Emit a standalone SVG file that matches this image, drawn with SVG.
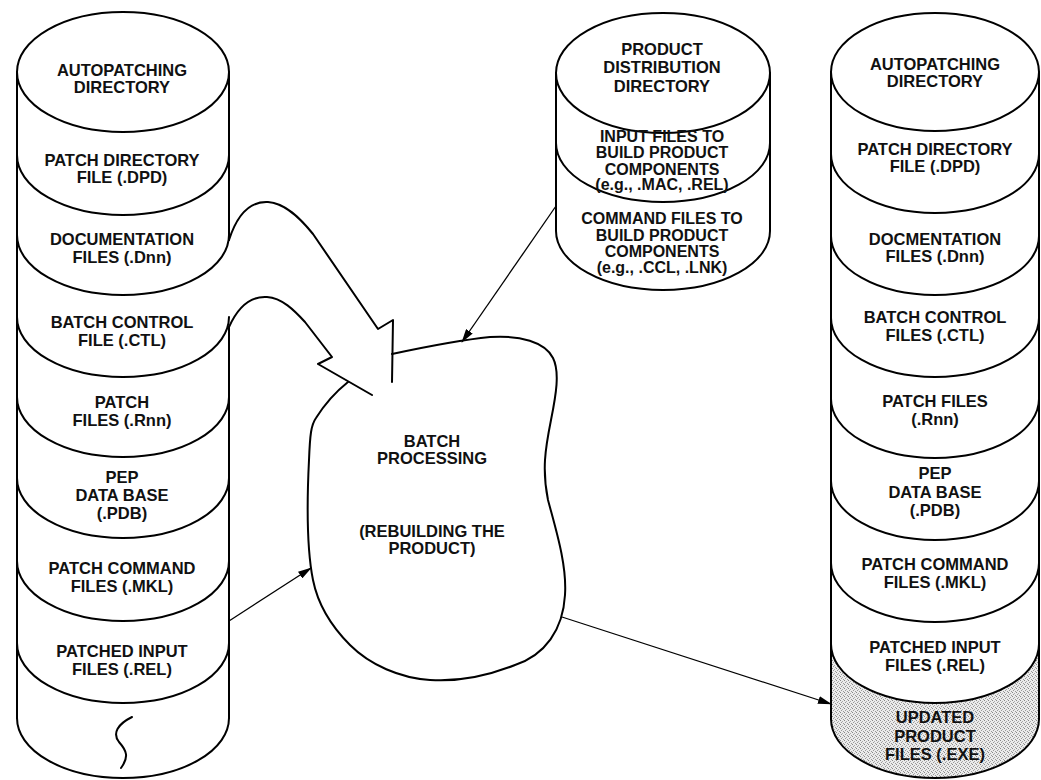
<svg xmlns="http://www.w3.org/2000/svg" width="1041" height="780" viewBox="0 0 1041 780">
<style>
.s{fill:none;stroke:#000;stroke-width:2;stroke-linecap:round;stroke-linejoin:round}
.a{fill:none;stroke:#000;stroke-width:1.3}
text{font-family:"Liberation Sans",Arial,sans-serif;font-weight:bold;font-size:16.5px;text-anchor:middle;fill:#111}
.m text{font-size:16px}
</style>
<defs>
<marker id="ah" markerUnits="userSpaceOnUse" markerWidth="14" markerHeight="8" refX="13" refY="4" orient="auto">
<path d="M0,0 L14,4 L0,8 Z" fill="#000"/>
</marker>
<pattern id="stip" width="4" height="4" patternUnits="userSpaceOnUse">
<rect width="4" height="4" fill="#ebebeb"/>
<rect x="0" y="0" width="1" height="1" fill="#888"/>
<rect x="2" y="1" width="1" height="1" fill="#aaa"/>
<rect x="1" y="2" width="1" height="1" fill="#999"/>
<rect x="3" y="3" width="1" height="1" fill="#999"/>
</pattern>
</defs>

<g id="left-cylinder">
<ellipse class="s" cx="123" cy="72" rx="106" ry="60"/>
<path class="s" d="M17,72 L17,718 M229,72 L229,240 M229,327 L229,718"/>
<path class="s" d="M17,155 A106,60 0 0 0 229,155 M17,235 A106,60 0 0 0 229,235 M17,317 A106,60 0 0 0 229,317 M17,397 A106,60 0 0 0 229,397 M17,478 A106,60 0 0 0 229,478 M17,561 A106,60 0 0 0 229,561 M17,643 A106,60 0 0 0 229,643 M17,718 A106,60 0 0 0 229,718"/>
<path class="s" d="M132,717 C118,724 112,733 119,742 C127,751 129,757 121,768"/>
<text x="122" y="76">AUTOPATCHING</text><text x="122" y="93">DIRECTORY</text>
<text x="122" y="166">PATCH DIRECTORY</text><text x="122" y="183">FILE (.DPD)</text>
<text x="122" y="245">DOCUMENTATION</text><text x="122" y="263">FILES (.Dnn)</text>
<text x="122" y="328">BATCH CONTROL</text><text x="122" y="346">FILE (.CTL)</text>
<text x="122" y="408">PATCH</text><text x="122" y="426">FILES (.Rnn)</text>
<text x="122" y="483">PEP</text><text x="122" y="501">DATA BASE</text><text x="122" y="519">(.PDB)</text>
<text x="122" y="574">PATCH COMMAND</text><text x="122" y="592">FILES (.MKL)</text>
<text x="122" y="657">PATCHED INPUT</text><text x="122" y="675">FILES (.REL)</text>
</g>

<g id="middle-cylinder">
<ellipse class="s" cx="663" cy="73" rx="107" ry="60"/>
<path class="s" d="M556,73 L556,231 M770,73 L770,231 M556,143 A107,59 0 0 0 770,143 M556,231 A107,59 0 0 0 770,231"/>
<text x="662" y="55">PRODUCT</text><text x="662" y="73">DISTRIBUTION</text><text x="662" y="92">DIRECTORY</text>
<g class="m">
<text x="662" y="142">INPUT FILES TO</text><text x="662" y="158">BUILD PRODUCT</text><text x="662" y="175">COMPONENTS</text><text x="662" y="190">(e.g., .MAC, .REL)</text>
<text x="662" y="224">COMMAND FILES TO</text><text x="662" y="241">BUILD PRODUCT</text><text x="662" y="257">COMPONENTS</text><text x="662" y="273">(e.g., .CCL, .LNK)</text>
</g>
</g>

<g id="right-cylinder">
<path d="M831,644 A104,59 0 0 0 1039,644 L1039,719 A104,59 0 0 1 831,719 Z" fill="url(#stip)"/>
<ellipse class="s" cx="935" cy="72" rx="104" ry="59"/>
<path class="s" d="M831,72 L831,719 M1039,72 L1039,719"/>
<path class="s" d="M831,154 A104,59 0 0 0 1039,154 M831,236 A104,59 0 0 0 1039,236 M831,318 A104,59 0 0 0 1039,318 M831,399 A104,59 0 0 0 1039,399 M831,481 A104,59 0 0 0 1039,481 M831,563 A104,59 0 0 0 1039,563 M831,644 A104,59 0 0 0 1039,644 M831,719 A104,59 0 0 0 1039,719"/>
<text x="935" y="70">AUTOPATCHING</text><text x="935" y="87">DIRECTORY</text>
<text x="935" y="155">PATCH DIRECTORY</text><text x="935" y="172">FILE (.DPD)</text>
<text x="935" y="245">DOCMENTATION</text><text x="935" y="262">FILES (.Dnn)</text>
<text x="935" y="323">BATCH CONTROL</text><text x="935" y="341">FILES (.CTL)</text>
<text x="935" y="407">PATCH FILES</text><text x="935" y="425">(.Rnn)</text>
<text x="935" y="479">PEP</text><text x="935" y="498">DATA BASE</text><text x="935" y="516">(.PDB)</text>
<text x="935" y="570">PATCH COMMAND</text><text x="935" y="588">FILES (.MKL)</text>
<text x="935" y="653">PATCHED INPUT</text><text x="935" y="671">FILES (.REL)</text>
<text x="935" y="723">UPDATED</text><text x="935" y="742">PRODUCT</text><text x="935" y="760">FILES (.EXE)</text>
</g>

<g id="batch-processing">
<path class="s" d="M392,354 C420,348 460,340 490,337 C520,335 545,342 553,358 C560,372 556,395 551,420 C545,450 542,470 548,500 C556,530 567,565 565,595 C563,630 545,655 515,665 C490,675 460,682 430,680 C400,678 370,665 350,645 C330,625 318,605 313,580 C307,550 307,500 309,460 C310,435 311,425 316,418 C326,402 338,390 348,382"/>
<text x="432" y="447">BATCH</text><text x="432" y="464">PROCESSING</text>
<text x="432" y="537">(REBUILDING THE</text><text x="432" y="554">PRODUCT)</text>
</g>

<g id="connectors">
<path class="s" d="M229,240 C237,215 250,201 268,202 C285,203 300,218 313,234 L378,329 L393,320 L392,382"/>
<path class="s" d="M229,327 C238,307 251,296 267,297 C282,298 294,310 305,322 L332,357 L318,364 L372,395"/>
<line class="a" x1="556" y1="206" x2="462" y2="342" marker-end="url(#ah)"/>
<line class="a" x1="229" y1="621" x2="311" y2="568" marker-end="url(#ah)"/>
<line class="a" x1="562" y1="617" x2="831" y2="704" marker-end="url(#ah)"/>
</g>
</svg>
